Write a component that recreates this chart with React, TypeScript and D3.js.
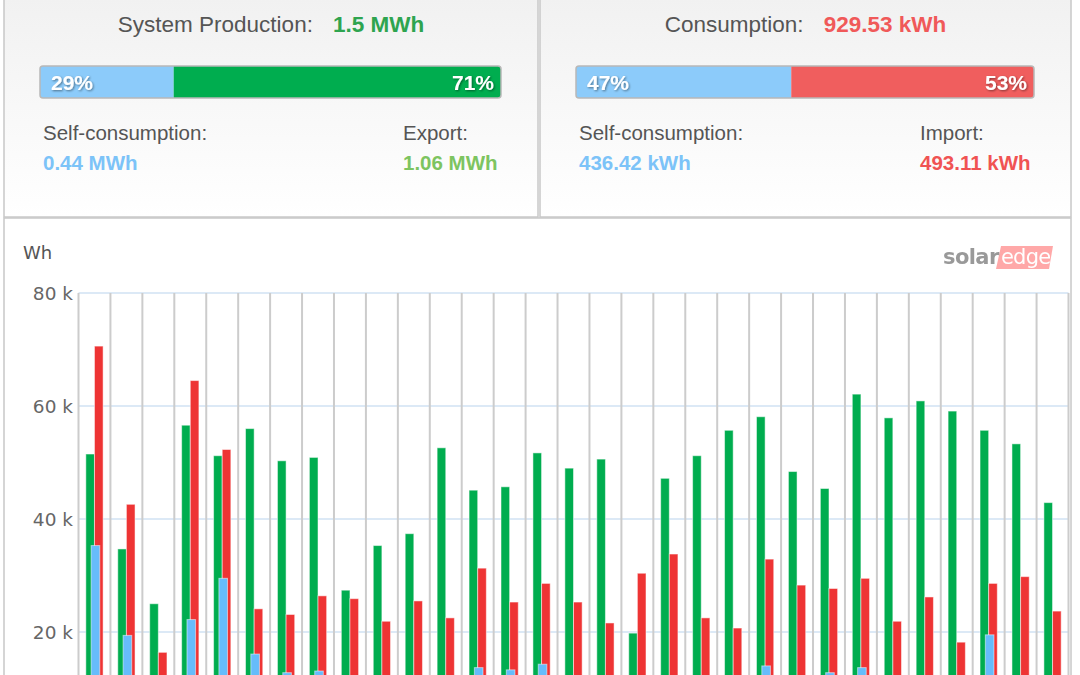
import * as d3 from "d3"

// daily values in Wh (self-consumption below ~12 k is hidden by the crop)
const days = d3.range(1, 32).map(String)
const production = [
  51500, 34700, 25000, 56600, 51200, 56000, 50300, 50900, 27400, 35300, 37400,
  52600, 45100, 45700, 51700, 49000, 50600, 19800, 47200, 51200, 55700, 58100,
  48400, 45400, 62100, 57900, 60900, 59100, 55700, 53300, 42900,
]
const consumption = [
  70600, 42600, 16400, 64500, 52300, 24100, 23100, 26400, 25900, 21900, 25500,
  22500, 31300, 25300, 28600, 25300, 21600, 30400, 33800, 22500, 20700, 32900,
  28300, 27700, 29500, 21900, 26200, 18200, 28600, 29800, 23700,
]
const selfConsumption = [
  35300, 19400, 9000, 22200, 29500, 16100, 12800, 13100, 11500, 11800, 11600,
  11700, 13700, 13300, 14300, 11400, 11300, 10500, 11900, 11600, 11800, 14000,
  11200, 12800, 13700, 11300, 11500, 10800, 19500, 11400, 10700,
]
const yTicks = [20000, 40000, 60000, 80000]

const GREEN = "#00ad4f"
const RED = "#ee3434"
const BLUE = "#66bcfb"

const W = 1080
const H = 760
const plot = { left: 78.5, right: 1068.5, top: 293, bottom: 745 }

function SummaryPanel({
  x,
  w,
  title,
  total,
  totalColor,
  leftPct,
  rightPct,
  rightColor,
  leftLabel,
  leftValue,
  rightLabel,
  rightValue,
  rightValueColor,
  rightCol,
}: {
  x: number
  w: number
  title: string
  total: string
  totalColor: string
  leftPct: number
  rightPct: number
  rightColor: string
  leftLabel: string
  leftValue: string
  rightLabel: string
  rightValue: string
  rightValueColor: string
  rightCol: number
}) {
  const barX = x + 36
  const barW = w - 73
  const split = d3.scaleLinear().domain([0, 100]).range([barX, barX + barW])
  const cx = x + w / 2
  return (
    <g fontFamily="'Liberation Sans', Arial, sans-serif">
      <rect x={x} y={-2} width={w} height={219} fill="url(#panelGrad)" stroke="#c8c8c8" strokeWidth={1.5} />
      <text x={cx} y={32} textAnchor="middle" fontSize={22.5}>
        <tspan fill="#555">{title}</tspan>
        <tspan fill={totalColor} fontWeight="bold" dx={20}>{total}</tspan>
      </text>
      <clipPath id={`clip-${x}`}>
        <rect x={barX} y={66} width={barW} height={32} rx={3} />
      </clipPath>
      <g clipPath={`url(#clip-${x})`}>
        <rect x={barX} y={66} width={split(leftPct) - barX} height={32} fill="#8ccbfa" />
        <rect x={split(leftPct)} y={66} width={barX + barW - split(leftPct)} height={32} fill={rightColor} />
      </g>
      <rect x={barX} y={66} width={barW} height={32} rx={3} fill="none" stroke="#b8b8b8" strokeWidth={1.5} />
      <g fill="#fff" fontWeight="bold" fontSize={21} filter="url(#txtShadow)">
        <text x={barX + 11} y={90}>{leftPct}%</text>
        <text x={barX + barW - 7} y={90} textAnchor="end">{rightPct}%</text>
      </g>
      <g fontSize={20.5}>
        <text x={x + 39} y={140} fill="#555">{leftLabel}</text>
        <text x={x + 39} y={170} fill="#7cc3f8" fontWeight="bold">{leftValue}</text>
        <text x={rightCol} y={140} fill="#555">{rightLabel}</text>
        <text x={rightCol} y={170} fill={rightValueColor} fontWeight="bold">{rightValue}</text>
      </g>
    </g>
  )
}

function Logo({ x, y }: { x: number; y: number }) {
  return (
    <g fontFamily="'DejaVu Sans', sans-serif" fontWeight="bold" fontSize={21} opacity={0.75}>
      <path d={`M${x + 58},${y - 10} L${x + 110},${y - 10} L${x + 106},${y + 13} L${x + 53},${y + 13} Z`} fill="#ff8c8c" />
      <text x={x} y={y + 8} fill="#777" letterSpacing={-0.6}>solar</text>
      <text x={x + 58} y={y + 8} fill="#fff" fontWeight="normal" letterSpacing={-0.8}>edge</text>
    </g>
  )
}

export default function App() {
  const x = d3.scaleBand<string>().domain(days).range([plot.left, plot.right])
  const inner = d3
    .scaleBand<string>()
    .domain(["production", "consumption"])
    .range([0, x.bandwidth()])
    .paddingInner(0)
    .paddingOuter(0.85)
  const y = d3.scaleLinear().domain([0, 80000]).range([plot.bottom, plot.top])
  const bw = inner.bandwidth()
  const boundaries = days.map((d) => x(d) as number).concat(plot.right)

  return (
    <div style={{ position: "absolute", left: 0, top: 0 }}>
      <svg width={W} height={H} style={{ display: "block" }}>
        <defs>
          <linearGradient id="panelGrad" x1="0" y1="0" x2="0" y2="1">
            <stop offset="0" stopColor="#f1f1f1" />
            <stop offset="1" stopColor="#ffffff" />
          </linearGradient>
          <filter id="txtShadow" x="-20%" y="-40%" width="140%" height="180%">
            <feDropShadow dx={1} dy={1} stdDeviation={1.2} floodColor="#000" floodOpacity={0.45} />
          </filter>
        </defs>
        <rect width={W} height={H} fill="#fff" />

        <SummaryPanel
          x={4}
          w={534}
          title="System Production:"
          total="1.5 MWh"
          totalColor="#2ea44f"
          leftPct={29}
          rightPct={71}
          rightColor={GREEN}
          leftLabel="Self-consumption:"
          leftValue="0.44 MWh"
          rightLabel="Export:"
          rightValue="1.06 MWh"
          rightValueColor="#7dc460"
          rightCol={403}
        />
        <SummaryPanel
          x={540}
          w={531}
          title="Consumption:"
          total="929.53 kWh"
          totalColor="#f05959"
          leftPct={47}
          rightPct={53}
          rightColor="#f05e5e"
          leftLabel="Self-consumption:"
          leftValue="436.42 kWh"
          rightLabel="Import:"
          rightValue="493.11 kWh"
          rightValueColor="#f05353"
          rightCol={920}
        />

        {/* chart panel */}
        <rect x={4} y={218} width={1067} height={H} fill="#fff" stroke="#c8c8c8" strokeWidth={1.5} />
        <text x={23} y={259} fontFamily="'DejaVu Sans', sans-serif" fontSize={18} fill="#555">
          Wh
        </text>
        <Logo x={943} y={256} />

        {/* gridlines */}
        {yTicks.map((t) => (
          <line key={t} x1={plot.left} x2={plot.right} y1={y(t)} y2={y(t)} stroke="#dce9f6" strokeWidth={2} />
        ))}
        {boundaries.map((bx, i) => (
          <line key={i} x1={bx} x2={bx} y1={plot.top} y2={plot.bottom} stroke="#cccccc" strokeWidth={2} />
        ))}

        {/* y axis labels */}
        <g fontFamily="'DejaVu Sans', sans-serif" fontSize={18.5} fill="#666" textAnchor="end">
          {yTicks.map((t) => (
            <text key={t} x={73} y={y(t) + 6.5}>
              {`${t / 1000} k`}
            </text>
          ))}
        </g>

        {/* bars */}
        {days.map((d, i) => {
          const x0 = x(d) as number
          const gx = x0 + (inner("production") as number)
          const rx = x0 + (inner("consumption") as number)
          const bx = x0 + x.bandwidth() / 2 - bw / 2 + 1
          return (
            <g key={d} stroke="rgba(255,255,255,0.5)" strokeWidth={1}>
              <rect x={gx} y={y(production[i])} width={bw} height={plot.bottom - y(production[i])} fill={GREEN} />
              <rect x={rx} y={y(consumption[i])} width={bw} height={plot.bottom - y(consumption[i])} fill={RED} />
              <rect
                x={bx}
                y={y(selfConsumption[i])}
                width={bw}
                height={plot.bottom - y(selfConsumption[i])}
                fill={BLUE}
              />
            </g>
          )
        })}
      </svg>
    </div>
  )
}
